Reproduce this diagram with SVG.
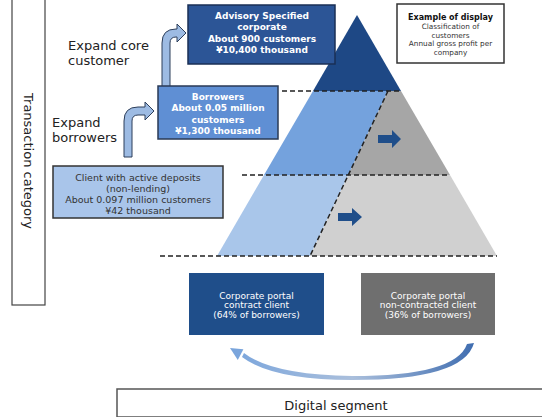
<svg xmlns="http://www.w3.org/2000/svg" width="542" height="417" viewBox="0 0 542 417">
<style>
text{font-family:"DejaVu Sans","Verdana",sans-serif}
.wb{fill:#fff;font-weight:bold;font-size:9px;text-anchor:middle}
.wr{fill:#fff;font-size:9px;text-anchor:middle}
.dk{fill:#333;font-size:9.5px;text-anchor:middle}
.lbl{fill:#222;font-size:13px}
.dash{stroke:#222;stroke-width:1.5;stroke-dasharray:5 3;fill:none}
.bent{fill:#9dbbe3;stroke:#2d3e5a;stroke-width:1}
.blk{fill:#1f4e8a}
</style>
<defs>
<linearGradient id="arcg" gradientUnits="userSpaceOnUse" x1="230" y1="0" x2="475" y2="0">
<stop offset="0" stop-color="#7aa5dc"/>
<stop offset="0.5" stop-color="#aabfdc"/>
<stop offset="1" stop-color="#3f6db0"/>
</linearGradient>
</defs>

<g id="axis-label">
<rect x="12" y="-2" width="33" height="307" fill="none" stroke="#444" stroke-width="1.2"/>
<text transform="translate(24,161) rotate(90)" text-anchor="middle" font-size="13" fill="#222">Transaction category</text>
</g>

<g id="pyramid">
<polygon points="357,15 401,91 313,91" fill="#1e4885"/>
<polygon points="313,91 388,91 348.3,175 264,175" fill="#74a2dd"/>
<polygon points="388,91 401,91 450,175 348.3,175" fill="#a6a6a6"/>
<polygon points="264,175 348.3,175 310,256 217,256" fill="#a9c6ea"/>
<polygon points="348.3,175 450,175 497,256 310,256" fill="#d0d0d0"/>
<polygon class="blk" points="378,135 392,135 392,130 401,139 392,148 392,143 378,143"/>
<polygon class="blk" points="338,213 352,213 352,208 362,217 352,226 352,221 338,221"/>
</g>

<g id="connectors">
<line class="dash" x1="282" y1="91" x2="401" y2="91"/>
<line class="dash" x1="242" y1="175" x2="450" y2="175"/>
<line class="dash" x1="160" y1="256" x2="497" y2="256" stroke="#444"/>
<line class="dash" x1="388" y1="91" x2="310" y2="256"/>
<path class="bent" d="M124,157 L124,121 Q124,107 138,107 L145,107 L145,102 L154,111 L145,120 L145,115 L138,115 Q132,115 132,121 L132,157 Z"/>
<path class="bent" d="M162,88 L162,43 Q162,29 176,29 L177,29 L177,24 L186,33 L177,42 L177,37 L176,37 Q170,37 170,43 L170,88 Z"/>
<path d="M474,343 Q464,380 352,380 Q272,380 242,357 L244,353 Q272,375 352,376 Q456,376 467,344 Z" fill="url(#arcg)"/>
<polygon points="230,348 243.4,349.3 237.8,359.9" fill="#7aa5dc"/>
</g>

<g id="label-core">
<text class="lbl" x="68" y="50">Expand core</text>
<text class="lbl" x="68" y="65">customer</text>
</g>
<g id="label-borrowers">
<text class="lbl" x="52" y="127">Expand</text>
<text class="lbl" x="52" y="142">borrowers</text>
</g>

<g id="advisory">
<rect x="188" y="5" width="147" height="59" fill="#2c5596" stroke="#1a2f55" stroke-width="1.5"/>
<text class="wb" x="262" y="18.5">Advisory Specified</text>
<text class="wb" x="262" y="30">corporate</text>
<text class="wb" x="262" y="41.5">About 900 customers</text>
<text class="wb" x="262" y="53">¥10,400 thousand</text>
</g>

<g id="borrowers">
<rect x="158" y="86" width="120" height="53" fill="#5f8fd4" stroke="#2a3a55" stroke-width="1.5"/>
<text class="wb" x="218" y="99.5">Borrowers</text>
<text class="wb" x="218" y="111">About 0.05 million</text>
<text class="wb" x="218" y="122.5">customers</text>
<text class="wb" x="218" y="134">¥1,300 thousand</text>
</g>

<g id="client">
<rect x="53" y="166" width="170" height="52" fill="#a9c5ea" stroke="#333" stroke-width="1.5"/>
<text class="dk" x="138" y="180.5">Client with active deposits</text>
<text class="dk" x="138" y="191.5">(non-lending)</text>
<text class="dk" x="138" y="202.5">About 0.097 million customers</text>
<text class="dk" x="138" y="214">¥42 thousand</text>
</g>

<g id="example">
<rect x="397" y="4" width="107" height="59" fill="#fff" stroke="#333" stroke-width="1.5"/>
<text x="450.5" y="20" text-anchor="middle" font-size="8" font-weight="bold" fill="#111">Example of display</text>
<text x="450.5" y="29" text-anchor="middle" font-size="7.3" fill="#333">Classification of</text>
<text x="450.5" y="37.5" text-anchor="middle" font-size="7.3" fill="#333">customers</text>
<text x="450.5" y="46" text-anchor="middle" font-size="7.3" fill="#333">Annual gross profit per</text>
<text x="450.5" y="54.5" text-anchor="middle" font-size="7.3" fill="#333">company</text>
</g>

<g id="portal-contract">
<rect x="189" y="273" width="135" height="62" fill="#1f4e8a"/>
<text class="wr" x="256.5" y="298.5">Corporate portal</text>
<text class="wr" x="256.5" y="308">contract client</text>
<text class="wr" x="256.5" y="317.5">(64% of borrowers)</text>
</g>

<g id="portal-noncontract">
<rect x="361" y="273" width="134" height="62" fill="#6f6f6f"/>
<text class="wr" x="428" y="298.5">Corporate portal</text>
<text class="wr" x="428" y="308">non-contracted client</text>
<text class="wr" x="428" y="317.5">(36% of borrowers)</text>
</g>

<g id="digital">
<rect x="117" y="389" width="426" height="28" fill="#fff" stroke="#555" stroke-width="1.5"/>
<text x="336" y="410" text-anchor="middle" font-size="13" fill="#222">Digital segment</text>
</g>
</svg>
